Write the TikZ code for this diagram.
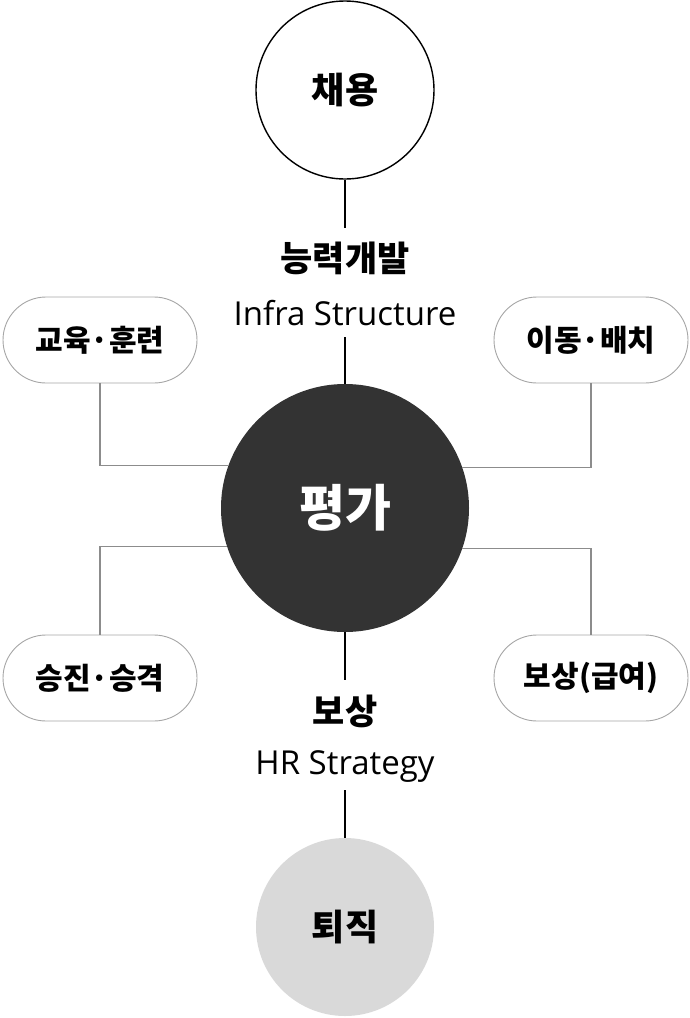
\documentclass[tikz,border=0pt]{standalone}
\usepackage{fontspec}
\setmainfont{Noto Sans CJK KR}
\newfontfamily\latinfont{Open Sans}
\begin{document}
\begin{tikzpicture}[x=1pt,y=-1pt,
  pill/.style={draw=black!35,line width=0.9pt,fill=white,rounded corners=43pt,minimum width=194pt,minimum height=86pt,inner sep=0pt,font=\fontsize{30}{34}\selectfont\bfseries},
  ring/.style={circle,minimum size=178pt,inner sep=0pt,font=\fontsize{36}{40}\selectfont\bfseries},
  kor/.style={inner sep=0pt,font=\fontsize{35}{40}\selectfont\bfseries},
  eng/.style={inner sep=0pt,font=\latinfont\fontsize{33}{38}\selectfont},
  link/.style={draw=black,line width=1.4pt},
  glink/.style={draw=black!45,line width=1.4pt}]
\useasboundingbox (0,0) rectangle (690,1018);
\node[ring,draw=black,line width=1.4pt,fill=white] (hire) at (345,90) {채용};
\node[circle,minimum size=248pt,inner sep=0pt,fill=black!80,text=white,font=\fontsize{50}{56}\selectfont\bfseries] (eval) at (345,508) {평가};
\node[ring,fill=black!15] (quit) at (345,927) {퇴직};
\node[kor] (dev) at (345,258) {능력개발};
\node[eng] (infra) at (345,313) {Infra Structure};
\node[kor] (comp) at (345,711) {보상};
\node[eng] (hrs) at (345,767) {HR Strategy};
\coordinate (a1) at (345,228);
\coordinate (a2) at (345,337);
\coordinate (b1) at (345,680);
\coordinate (b2) at (345,790);
\draw[link] (hire.south) -- (a1);
\draw[link] (a2) -- (eval.north);
\draw[link] (eval.south) -- (b1);
\draw[link] (b2) -- (quit.north);
\node[pill] (edu) at (100,340) {교육·훈련};
\node[pill] (move) at (591,340) {이동·배치};
\node[pill] (prom) at (100,678) {승진·승격};
\node[pill] (pay) at (591,678) {보상(급여)};
\draw[glink] (edu.south) |- (eval.160.7);
\draw[glink] (move.south) |- (eval.19.3);
\draw[glink] (prom.north) |- (eval.198.8);
\draw[glink] (pay.north) |- (eval.341.2);
\end{tikzpicture}
\end{document}
